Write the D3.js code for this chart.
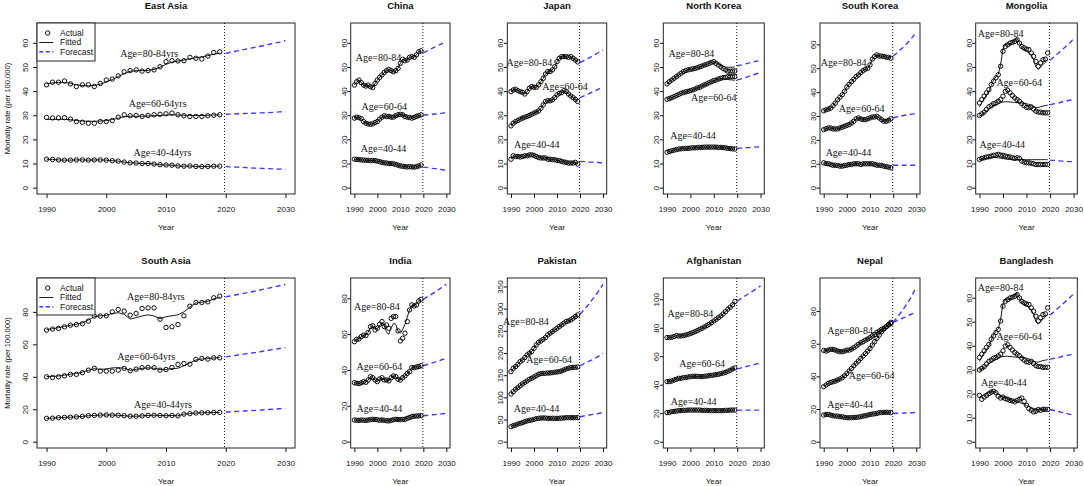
<!DOCTYPE html>
<html lang="en">
<head>
<meta charset="UTF-8" />
<title>Mortality rate forecasts, East and South Asia</title>
<script src="https://d3js.org/d3.v7.min.js"></script>
<style>
  body { margin: 0; background: #fff; }
  svg { display: block; font-family: "Liberation Sans", Arial, sans-serif; }
  .tick text { font-size: 8px; fill: #111; }
  .tick line { stroke: #111; }
  .title { font-size: 9.5px; font-weight: bold; fill: #111; }
  .axlab { font-size: 8px; fill: #111; }
  .age { font-family: "Liberation Serif", "Times New Roman", serif; font-size: 10px; fill: #111; }
  .leg { font-size: 8.5px; fill: #111; }
</style>
</head>
<body>
<svg id="chart" width="1084" height="486"></svg>
<script>
// ---- data ----
const years = [1990,1991,1992,1993,1994,1995,1996,1997,1998,1999,2000,2001,2002,2003,2004,
               2005,2006,2007,2008,2009,2010,2011,2012,2013,2014,2015,2016,2017,2018,2019];
const fcYears = [2020,2021,2022,2023,2024,2025,2026,2027,2028,2029,2030];
const ageGroups = ["80-84", "60-64", "40-44"];
const panelTitles = ["East Asia","China","Japan","North Korea","South Korea","Mongolia",
                     "South Asia","India","Pakistan","Afghanistan","Nepal","Bangladesh"];
const yLimits = [65.6, 65.6, 65.6, 65.6, 66.3, 65.6, 97, 87.8, 355, 110.5, 96.4, 65.6];
const yTickSteps = [10, 10, 10, 10, 10, 10, 20, 20, 50, 20, 20, 10];
const forecastStart = 2019.8;

// East Asia
const ea80 = [42.6,43.7,43.7,44.2,43.0,41.9,42.6,42.6,41.9,43.2,44.6,45.0,46.3,48.0,48.5,48.8,48.3,48.5,48.8,50.1,52.2,52.6,52.5,52.6,54.0,53.6,53.3,54.5,56.0,56.3];
const ea80Fit = [43.0,43.4,43.6,43.6,43.2,42.6,42.3,42.2,42.3,42.9,43.8,44.8,46.0,47.3,48.2,48.5,48.5,48.6,49.0,49.9,51.1,52.0,52.5,52.9,53.4,53.8,54.2,54.7,55.3,55.8];
const ea80Fc = [55.6,56.2,56.7,57.2,57.7,58.2,58.7,59.2,59.8,60.3,60.9];
const ea60 = [29.1,28.9,28.9,29.0,28.4,27.4,27.1,26.7,26.7,27.4,27.4,27.8,29.2,30.2,29.8,29.9,29.5,29.9,30.2,30.4,30.6,30.9,30.2,29.8,29.5,29.5,29.5,29.8,30.0,30.2];
const ea60Fit = [28.3,28.3,28.3,28.3,28.2,27.8,27.6,27.5,27.5,27.6,27.8,28.2,28.8,29.4,29.6,29.6,29.6,29.7,29.8,29.9,30.1,30.2,30.1,30.0,29.9,29.9,29.9,30.0,30.1,30.2];
const ea60Fc = [30.4,30.5,30.6,30.7,30.8,30.9,31.0,31.1,31.2,31.4,31.5];
const ea40 = [11.8,11.7,11.5,11.4,11.4,11.5,11.5,11.4,11.5,11.5,11.4,11.2,11.0,10.6,10.3,10.2,10.0,10.0,9.8,9.5,9.4,9.3,9.0,8.9,9.0,8.8,8.7,8.8,8.9,8.9];
const ea40Fc = [8.7,8.6,8.5,8.4,8.2,8.1,8.0,7.9,7.8,7.7,7.6];

// China
const cn80 = [42.5,43.9,44.6,43.5,42.5,42.1,42.5,41.8,41.5,43.2,44.6,45.7,46.7,47.7,48.5,49.0,48.5,48.0,48.5,49.4,51.5,53.2,52.6,52.9,54.0,54.3,54.0,55.0,56.3,56.7];
const cn80Fc = [55.9,56.4,56.8,57.3,57.8,58.2,58.7,59.2,59.6,60.1,60.5];
const cn60 = [28.8,29.2,29.0,28.6,27.4,26.7,26.4,26.3,26.4,27.0,27.4,28.4,29.2,29.8,29.5,29.5,29.2,29.2,29.8,30.2,30.4,30.2,29.5,29.2,29.1,28.8,29.1,29.5,29.9,30.2];
const cn60Fc = [30.0,30.1,30.2,30.3,30.4,30.5,30.6,30.7,30.8,31.0,31.1];
const cn40 = [11.8,11.7,11.6,11.5,11.4,11.4,11.3,11.2,11.3,11.2,11.0,10.8,10.5,10.3,10.2,10.0,10.0,9.9,9.6,9.3,9.0,8.9,8.7,8.6,8.7,8.6,8.5,8.7,9.0,9.4];
const cn40Fc = [8.5,8.4,8.3,8.2,8.0,7.9,7.8,7.6,7.5,7.3,7.2];

// Japan
const jp80 = [39.8,40.5,40.8,40.2,39.8,39.5,38.8,39.8,41.2,41.9,41.6,41.6,42.6,43.9,45.3,47.1,48.1,48.1,48.8,50.1,52.2,53.6,54.3,54.3,54.3,54.0,54.3,53.6,52.9,52.1];
const jp80Fc = [51.8,52.3,52.8,53.3,53.8,54.3,54.9,55.4,55.9,56.5,57.0];
const jp60 = [25.6,26.7,27.4,27.8,28.4,28.8,29.2,29.5,29.9,30.4,30.9,31.3,31.8,32.9,34.3,35.7,36.0,36.0,36.4,37.3,38.4,39.1,39.4,40.2,39.8,38.8,38.0,37.3,36.6,35.7];
const jp60Fc = [37.3,37.7,38.2,38.6,39.0,39.5,39.9,40.3,40.8,41.2,41.6];
const jp40 = [11.8,13.2,12.9,12.9,12.7,12.9,13.2,13.2,13.6,13.6,13.4,12.9,12.5,12.3,12.3,12.3,11.8,11.8,11.6,11.6,11.3,11.2,10.9,10.6,10.5,10.2,10.2,10.2,10.5,9.8];
const jp40Fc = [10.9,10.8,10.8,10.7,10.6,10.6,10.5,10.4,10.4,10.3,10.2];

// North Korea
const nk80 = [43.0,43.9,44.6,45.3,46.0,46.7,47.4,48.1,48.5,48.8,49.0,49.2,49.4,49.7,50.1,50.4,50.8,51.1,51.5,51.9,52.2,51.5,50.8,50.1,49.4,48.8,48.3,48.3,48.3,48.3];
const nk80Fit = [43.0,43.9,44.6,45.3,46.0,46.7,47.4,48.1,48.5,48.8,49.0,49.2,49.4,49.7,50.1,50.4,50.8,51.1,51.5,51.9,52.2,51.8,51.2,50.7,50.3,50.0,49.9,49.9,49.9,50.0];
const nk80Fc = [50.4,50.7,50.9,51.2,51.4,51.6,51.9,52.1,52.4,52.6,52.9];
const nk60 = [36.6,36.9,37.3,37.7,38.2,38.6,39.1,39.4,39.7,39.9,40.2,40.5,40.9,41.3,41.6,42.1,42.6,43.0,43.5,43.9,44.4,44.6,45.0,45.3,45.6,45.7,46.0,46.0,46.0,46.0];
const nk60Fit = [36.6,36.9,37.3,37.7,38.2,38.6,39.1,39.4,39.7,39.9,40.2,40.5,40.9,41.3,41.6,42.1,42.6,43.0,43.5,43.9,44.4,44.6,45.0,45.2,45.2,45.0,44.8,44.7,44.6,44.5];
const nk60Fc = [44.6,44.9,45.2,45.5,45.8,46.1,46.5,46.8,47.1,47.4,47.7];
const nk40 = [14.7,15.0,15.3,15.5,15.8,16.0,16.1,16.2,16.3,16.3,16.4,16.5,16.5,16.6,16.7,16.7,16.8,16.8,16.8,16.8,16.8,16.8,16.7,16.7,16.6,16.5,16.3,16.2,16.1,16.0];
const nk40Fc = [16.3,16.4,16.4,16.5,16.6,16.6,16.7,16.8,16.8,16.9,17.0];

// South Korea
const sk80 = [32.2,32.6,32.9,33.3,34.3,35.4,36.8,37.9,38.9,40.3,42.1,43.3,44.4,45.4,46.5,47.2,48.2,49.0,49.6,50.0,51.4,53.8,54.9,55.6,55.1,55.1,54.9,54.6,54.6,54.2];
const sk80Fc = [55.1,55.9,56.7,57.6,58.5,59.4,60.4,61.5,62.6,63.9,65.3];
const sk60 = [24.3,24.7,25.0,25.0,24.6,24.6,24.6,25.0,25.3,25.7,26.1,26.4,27.1,27.8,28.8,29.2,28.8,28.5,28.5,28.8,29.2,29.6,29.6,29.9,29.2,28.5,27.8,27.8,28.2,28.8];
const sk60Fc = [29.2,29.5,29.7,29.9,30.1,30.3,30.5,30.6,30.8,30.9,31.0];
const sk40 = [10.4,10.1,10.0,9.7,9.4,9.4,9.3,9.0,9.0,9.3,9.4,9.7,9.7,10.0,10.0,10.0,9.7,10.0,10.0,10.0,10.0,10.0,9.7,9.4,9.4,9.3,9.0,8.8,8.6,8.3];
const sk40Fc = [9.4,9.4,9.4,9.4,9.4,9.4,9.4,9.4,9.4,9.4,9.4];

// Mongolia
const mn80 = [35.1,36.5,37.9,39.3,40.6,42.7,44.1,45.5,46.8,50.3,56.5,58.5,59.2,59.9,60.2,60.6,61.3,59.9,58.5,57.9,57.4,57.2,55.8,54.4,52.3,50.3,51.7,53.0,53.3,55.8];
const mn80Fit = [33.5,35.2,37.0,38.5,40.0,42.3,44.5,46.0,47.0,51.0,57.5,59.5,59.5,59.3,60.0,61.3,61.8,60.0,58.0,57.0,56.5,56.0,55.0,53.0,50.0,49.0,50.0,51.0,52.0,53.0];
const mn80Fc = [52.8,53.6,54.4,55.3,56.1,57.0,57.9,58.8,59.7,60.6,61.6];
const mn60 = [29.9,30.6,31.3,32.4,33.5,34.0,34.8,35.1,35.8,36.5,37.9,39.9,40.4,39.3,38.2,37.2,36.5,35.8,34.8,34.0,33.3,33.1,33.5,32.6,31.7,31.3,31.3,31.0,31.0,31.0];
const mn60Fit = [29.5,30.3,31.0,31.8,32.5,33.2,33.8,34.2,34.7,35.2,35.5,35.6,35.6,35.5,35.4,35.3,35.2,35.2,35.1,35.0,34.8,34.5,34.0,33.5,33.2,33.2,33.5,33.8,34.0,34.2];
const mn60Fc = [34.4,34.6,34.8,35.0,35.2,35.5,35.7,35.9,36.1,36.3,36.5];
const mn40 = [11.7,12.1,12.4,12.7,12.8,13.1,13.4,13.5,13.8,13.5,13.4,13.1,12.8,12.7,12.4,12.1,12.4,12.1,11.0,10.6,10.3,10.3,10.1,9.9,9.6,9.6,9.6,9.6,9.6,9.6];
const mn40Fit = [11.6,11.8,12.0,12.2,12.3,12.4,12.5,12.5,12.4,12.2,12.0,11.9,11.8,11.7,11.6,11.6,11.6,11.6,11.6,11.6,11.6,11.6,11.6,11.6,11.6,11.6,11.6,11.6,11.6,11.6];
const mn40Fc = [11.4,11.3,11.3,11.2,11.1,11.0,11.0,10.9,10.8,10.8,10.7];

// South Asia
const sa80 = [68.8,69.4,69.8,70.8,71.8,72.2,72.7,74.3,77.4,77.4,77.6,80.0,81.5,80.5,78.0,79.0,82.1,82.5,82.5,75.5,70.4,70.8,72.2,77.6,83.5,85.8,85.8,86.2,88.7,89.7];
const sa80Fit = [69.0,69.6,70.3,71.0,71.7,72.4,73.3,75.0,77.0,77.6,77.8,79.0,79.5,78.5,75.5,76.5,77.5,78.2,77.5,75.8,77.0,77.6,78.2,80.0,83.0,85.5,86.0,86.5,88.0,89.0];
const sa80Fc = [89.3,90.0,90.7,91.4,92.1,92.9,93.7,94.5,95.3,96.1,96.9];
const sa60 = [40.0,39.6,40.0,40.6,41.5,41.5,42.5,44.1,45.2,43.5,43.5,43.5,44.1,45.2,43.7,44.7,45.6,45.8,45.6,44.1,44.5,45.8,47.6,48.2,47.8,50.7,51.3,50.9,51.7,51.7];
const sa60Fit = [40.2,40.2,40.5,41.0,41.6,42.0,42.8,44.0,45.0,44.6,44.8,45.5,45.6,45.3,44.0,44.6,45.2,45.5,45.3,44.5,44.6,45.0,45.3,46.8,48.5,50.3,51.0,51.2,51.6,51.8];
const sa60Fc = [52.3,52.8,53.4,54.0,54.5,55.0,55.6,56.2,56.8,57.4,57.9];
const sa40 = [14.4,14.5,14.8,15.0,15.1,15.3,15.6,16.0,16.2,16.4,16.5,16.4,16.3,16.0,15.7,15.7,15.9,16.2,16.3,16.2,16.0,16.2,15.9,17.0,17.3,17.7,17.8,17.9,18.0,18.1];
const sa40Fc = [18.3,18.5,18.7,18.9,19.1,19.3,19.5,19.8,20.0,20.3,20.5];

// India
const in80 = [55.8,57.1,57.3,58.6,59.5,59.2,61.0,64.2,64.7,62.3,63.3,65.5,67.0,64.2,65.1,63.3,68.8,69.8,69.8,61.8,56.2,57.7,60.5,67.0,73.5,76.3,75.7,76.3,78.5,79.4];
const in80Fit = [56.0,57.0,57.5,58.5,59.3,59.5,61.0,63.5,64.5,63.0,63.0,65.0,66.5,64.5,61.0,60.0,63.5,66.0,65.5,61.5,60.5,62.5,65.5,69.5,73.5,76.0,76.0,76.8,78.3,79.3];
const in80Fc = [79.4,80.2,81.0,81.8,82.6,83.4,84.3,85.1,86.0,86.9,87.8];
const in60 = [32.9,32.6,32.4,32.9,33.5,33.1,34.4,36.3,35.7,34.4,33.5,35.0,35.7,34.4,34.4,33.9,35.7,36.7,36.3,34.8,34.4,35.7,36.7,38.1,39.1,41.3,41.3,41.7,41.9,42.4];
const in60Fc = [42.4,42.8,43.2,43.6,44.0,44.4,44.8,45.2,45.7,46.1,46.5];
const in40 = [12.1,12.0,11.9,12.1,12.0,11.9,12.1,12.3,12.5,12.4,12.2,12.0,12.1,12.0,11.7,11.6,11.9,12.3,12.5,12.4,12.3,12.4,12.5,13.0,13.5,14.0,14.2,14.3,14.4,14.5];
const in40Fc = [14.5,14.6,14.7,14.9,15.0,15.1,15.3,15.4,15.5,15.7,15.8];

// Pakistan
const pk80 = [158.0,165.6,169.4,174.6,180.6,184.4,189.7,195.7,199.5,203.2,210.7,218.3,224.3,227.3,231.0,234.8,240.9,244.6,248.4,252.1,255.9,259.7,263.4,267.2,271.0,272.5,274.7,278.5,282.3,286.0];
const pk80Fc = [287.5,293,299,305,311,318,325,332,339,347,355];
const pk60 = [107.6,112.9,118.2,121.9,126.4,130.2,134.0,137.0,140.7,143.0,146.0,149.0,152.0,153.5,154.3,154.3,155.0,155.0,155.8,156.6,157.3,158.0,159.6,161.8,164.1,165.6,167.1,167.8,167.8,168.6];
const pk60Fc = [171.6,174,176.5,179,181.5,184,186.7,189.5,192.5,196,199.5];
const pk40 = [33.9,36.1,37.6,39.9,41.4,42.9,45.2,46.7,48.2,48.9,50.4,51.9,52.7,53.4,53.4,53.4,52.7,52.7,52.7,52.7,52.7,52.7,53.4,53.4,54.2,54.2,54.2,54.2,54.2,54.2];
const pk40Fc = [56.4,57.4,58.3,59.2,60.1,61.0,61.9,62.8,63.7,64.6,65.5];

// Afghanistan
const af80 = [73.1,73.1,73.3,73.8,74.5,74.2,74.2,74.5,74.9,75.4,75.9,76.6,77.3,78.0,78.9,79.6,80.6,81.5,82.4,83.6,84.8,85.9,87.1,88.3,89.7,91.3,93.0,94.4,96.0,98.4];
const af80Fc = [98.8,99.8,100.9,101.9,103.0,104.0,105.1,106.1,107.2,108.3,109.4];
const af60 = [42.2,42.2,42.6,43.3,43.8,44.5,44.5,45.0,45.0,45.4,45.7,45.9,45.9,45.9,45.7,45.7,45.9,46.1,46.4,46.6,46.8,47.1,47.3,47.8,48.2,48.7,49.4,50.1,51.1,51.8];
const af60Fc = [51.1,51.5,52.0,52.4,52.8,53.2,53.6,54.0,54.5,54.9,55.3];
const af40 = [20.4,20.6,21.1,21.3,21.5,21.8,21.8,22.0,22.0,22.2,22.2,22.2,22.2,22.2,22.2,22.0,22.0,22.0,21.8,21.8,21.8,21.8,21.8,21.8,21.8,22.0,22.0,22.2,22.2,22.2];
const af40Fc = [22.2,22.2,22.2,22.2,22.2,22.2,22.2,22.2,22.2,22.2,22.2];

// Nepal
const np80 = [55.9,55.5,56.1,56.5,56.5,56.1,55.5,55.1,55.1,55.5,56.1,56.1,56.7,57.6,58.6,59.6,60.6,61.2,62.2,62.9,63.7,64.7,65.7,66.9,67.8,68.8,69.4,70.4,71.4,72.4];
const np80Fc = [73.1,73.7,74.3,74.9,75.6,76.2,76.9,77.6,78.2,78.9,79.6];
const np60 = [33.7,34.7,35.7,36.3,36.7,37.1,37.8,38.4,39.2,40.4,41.8,43.3,44.9,46.5,48.0,49.4,51.0,52.4,53.9,55.5,57.1,59.2,61.2,63.3,65.3,67.3,69.0,70.4,71.8,73.1];
const np60Fc = [73.1,74.8,76.6,78.5,80.4,82.4,84.5,86.7,89.0,91.9,94.9];
const np40 = [16.3,16.7,16.7,16.3,15.9,15.7,15.7,15.3,15.3,14.9,14.7,14.7,14.7,14.9,14.9,15.1,15.3,15.7,15.9,16.3,16.7,16.9,17.1,17.3,17.8,17.8,18.0,18.0,18.0,17.8];
const np40Fc = [17.3,17.4,17.4,17.5,17.5,17.6,17.6,17.7,17.7,17.8,17.8];

// Bangladesh
const bd80 = [35.1,36.5,37.9,39.3,40.6,42.7,44.1,45.5,46.8,50.3,56.5,58.5,59.2,59.9,60.2,60.6,61.3,59.9,58.5,57.9,57.4,57.2,55.8,54.4,52.3,50.3,51.7,53.0,53.3,55.8];
const bd80Fit = [33.5,35.2,37.0,38.5,40.0,42.3,44.5,46.0,47.0,51.0,57.5,59.5,59.5,59.3,60.0,61.3,61.8,60.0,58.0,57.0,56.5,56.0,55.0,53.0,50.0,49.0,50.0,51.0,52.0,53.0];
const bd80Fc = [52.8,53.6,54.4,55.3,56.1,57.0,57.9,58.8,59.7,60.6,61.6];
const bd60 = [29.9,30.6,31.3,32.4,33.5,34.0,34.8,35.1,35.8,36.5,37.9,39.9,40.4,39.3,38.2,37.2,36.5,35.8,34.8,34.0,33.3,33.1,33.5,32.6,31.7,31.3,31.3,31.0,31.0,31.0];
const bd60Fit = [29.5,30.3,31.0,31.8,32.5,33.2,33.8,34.2,34.7,35.2,35.5,35.6,35.6,35.5,35.4,35.3,35.2,35.2,35.1,35.0,34.8,34.5,34.0,33.5,33.2,33.2,33.5,33.8,34.0,34.2];
const bd60Fc = [34.4,34.6,34.8,35.0,35.2,35.5,35.7,35.9,36.1,36.3,36.5];
const bd40 = [19.3,17.7,18.6,19.3,20.0,20.7,21.0,20.4,19.0,18.2,18.6,17.9,17.7,17.2,17.0,16.6,17.2,17.7,18.2,16.8,15.2,13.8,13.1,12.4,12.7,13.4,13.1,13.5,13.5,13.4];
const bd40Fit = [18.5,19.0,19.6,20.2,20.6,20.9,21.0,20.5,19.8,19.2,18.8,18.3,17.9,17.5,17.2,16.9,16.6,16.3,16.0,15.6,15.1,14.6,14.2,13.9,13.6,13.5,13.4,13.4,13.3,13.3];
const bd40Fc = [13.4,13.2,12.9,12.7,12.5,12.2,12.0,11.8,11.5,11.3,11.0];

// where R placed the "Age=..." annotations, [year, rate] per age group
const ageLabelAt = [
  [[2007.2,55.4],[2008.6,35.0],[2009.4,14.6]],
  [[2000.5,54.0],[2003.0,33.6],[2002.7,16.4]],
  [[1998.0,51.8],[2013.5,41.9],[2001.2,17.8]],
  [[2000.4,55.4],[2010.0,37.3],[2001.1,21.5]],
  [[1998.6,52.3],[2006.4,33.3],[2000.7,14.7]],
  [[1999.0,63.9],[2006.9,43.5],[1999.7,17.8]],
  [[2008.3,89.3],[2006.7,52.8],[2009.5,23.0]],
  [[1999.8,75.3],[2000.9,42.2],[2000.9,18.6]],
  [[1996.5,271],[2006.6,184.5],[2001.1,73.8]],
  [[2000.0,89.7],[2005.0,55.0],[2001.4,28.1]],
  [[2001.4,68.4],[2010.7,40.8],[2001.4,22.9]],
  [[1999.0,64.1],[2006.9,43.9],[2000.4,24.6]]
];

// actual / fitted / forecast per panel, age order 80-84, 60-64, 40-44
const actual = [[ea80,ea60,ea40],[cn80,cn60,cn40],[jp80,jp60,jp40],[nk80,nk60,nk40],[sk80,sk60,sk40],[mn80,mn60,mn40],
                [sa80,sa60,sa40],[in80,in60,in40],[pk80,pk60,pk40],[af80,af60,af40],[np80,np60,np40],[bd80,bd60,bd40]];
const fitted = [[ea80Fit,ea60Fit,ea40],[cn80,cn60,cn40],[jp80,jp60,jp40],[nk80Fit,nk60Fit,nk40],[sk80,sk60,sk40],[mn80Fit,mn60Fit,mn40Fit],
                [sa80Fit,sa60Fit,sa40],[in80Fit,in60,in40],[pk80,pk60,pk40],[af80,af60,af40],[np80,np60,np40],[bd80Fit,bd60Fit,bd40Fit]];
const forecast = [[ea80Fc,ea60Fc,ea40Fc],[cn80Fc,cn60Fc,cn40Fc],[jp80Fc,jp60Fc,jp40Fc],[nk80Fc,nk60Fc,nk40Fc],[sk80Fc,sk60Fc,sk40Fc],[mn80Fc,mn60Fc,mn40Fc],
                  [sa80Fc,sa60Fc,sa40Fc],[in80Fc,in60Fc,in40Fc],[pk80Fc,pk60Fc,pk40Fc],[af80Fc,af60Fc,af40Fc],[np80Fc,np60Fc,np40Fc],[bd80Fc,bd60Fc,bd40Fc]];

// ---- layout ----
const svg = d3.select("#chart");
const colL = [37, 350.7, 507.3, 663.3, 820, 975.7];
const colR = [295, 450, 606.7, 764.3, 920, 1077.3];
const rowT = [23, 278];
const rowB = [194, 448];
const blue = "#3a3aff";

panelTitles.forEach((title, i) => {
  const row = i < 6 ? 0 : 1, col = i % 6, wide = col === 0;
  const L = colL[col], R = colR[col], T = rowT[row], B = rowB[row];
  const ext = yLimits[i] * 0.04;  // R's default 4% axis padding
  const x = d3.scaleLinear().domain([1988.4, 2031.6]).range([L, R]);
  const y = d3.scaleLinear().domain([-ext, yLimits[i] + ext]).range([B, T]);
  const g = svg.append("g");

  // axes
  const xa = g.append("g").attr("transform", `translate(0,${B})`)
    .call(d3.axisBottom(x).tickValues([1990, 2000, 2010, 2020, 2030]).tickSize(4).tickFormat(d3.format("d")));
  xa.select(".domain").remove();
  xa.selectAll("text").attr("y", 12);

  const yticks = d3.range(0, yLimits[i] + 0.001, yTickSteps[i]);
  const tl = wide ? 4 : 3.5;
  const ya = g.append("g").attr("transform", `translate(${L},0)`)
    .call(d3.axisLeft(y).tickValues(yticks).tickSize(tl));
  ya.select(".domain").remove();
  ya.selectAll("text")
    .attr("x", null).attr("dy", null)
    .attr("text-anchor", "middle")
    .attr("transform", `translate(${wide ? -9 : -tl - 0.7},0) rotate(-90)`);

  g.append("rect").attr("x", L).attr("y", T).attr("width", R - L).attr("height", B - T)
    .attr("fill", "none").attr("stroke", "#222").attr("stroke-width", 1);

  g.append("text").attr("class", "title").attr("x", (L + R) / 2).attr("y", T - 14)
    .attr("text-anchor", "middle").text(title);
  g.append("text").attr("class", "axlab").attr("x", (L + R) / 2).attr("y", B + 35.5)
    .attr("text-anchor", "middle").text("Year");
  if (wide) {
    g.append("text").attr("class", "axlab").attr("transform", `translate(10,${(T + B) / 2}) rotate(-90)`)
      .attr("text-anchor", "middle").style("font-size", "7.6px").text("Mortality rate (per 100,000)");
  }

  // forecast origin
  g.append("line").attr("x1", x(forecastStart)).attr("x2", x(forecastStart))
    .attr("y1", T).attr("y2", B).attr("stroke", "#111").attr("stroke-width", 1).attr("stroke-dasharray", "1,2");

  const line = d3.line().x(d => x(d[0])).y(d => y(d[1]));

  ageGroups.forEach((age, k) => {
    const act = years.map((yr, j) => [yr, actual[i][k][j]]);
    const fit = years.map((yr, j) => [yr, fitted[i][k][j]]);
    const fc = fcYears.map((yr, j) => [yr, forecast[i][k][j]]);

    g.append("path").attr("d", line(fit)).attr("fill", "none").attr("stroke", "#000").attr("stroke-width", 0.9);
    g.append("path").attr("d", line(fc)).attr("fill", "none").attr("stroke", blue)
      .attr("stroke-width", 1.4).attr("stroke-dasharray", "5,3.5");
    g.selectAll(null).data(act).enter().append("circle")
      .attr("cx", d => x(d[0])).attr("cy", d => y(d[1])).attr("r", 2.2)
      .attr("fill", "none").attr("stroke", "#000").attr("stroke-width", 0.95);

    const at = ageLabelAt[i][k];
    g.append("text").attr("class", "age").attr("x", x(at[0])).attr("y", y(at[1]))
      .attr("dy", "0.35em").attr("text-anchor", "middle")
      .text("Age=" + age + (wide ? "yrs" : ""));
  });

  if (wide) {
    const lh = row === 0 ? 38 : 37;
    const lg = g.append("g");
    lg.append("rect").attr("x", L).attr("y", T).attr("width", 58).attr("height", lh)
      .attr("fill", "#fff").attr("stroke", "#222").attr("stroke-width", 1);
    const ry = [T + 10, T + 19.5, T + 28.7];
    lg.append("circle").attr("cx", L + 10.7).attr("cy", ry[0]).attr("r", 2.2)
      .attr("fill", "none").attr("stroke", "#000").attr("stroke-width", 0.95);
    lg.append("line").attr("x1", L + 2.3).attr("x2", L + 16.3).attr("y1", ry[1]).attr("y2", ry[1])
      .attr("stroke", "#000").attr("stroke-width", 0.9);
    lg.append("line").attr("x1", L + 2.3).attr("x2", L + 16.3).attr("y1", ry[2]).attr("y2", ry[2])
      .attr("stroke", blue).attr("stroke-width", 1.4).attr("stroke-dasharray", "4,2.5");
    ["Actual", "Fitted", "Forecast"].forEach((t, k) => {
      lg.append("text").attr("class", "leg").attr("x", L + 23).attr("y", ry[k]).attr("dy", "0.35em").text(t);
    });
  }
});
</script>
</body>
</html>
